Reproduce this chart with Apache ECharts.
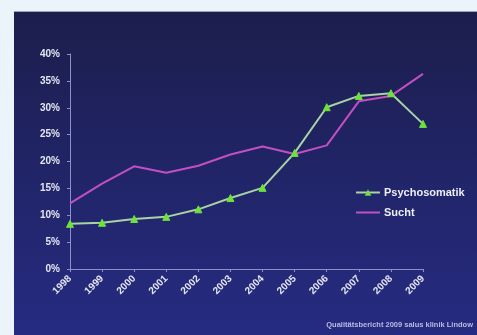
<!DOCTYPE html>
<html><head><meta charset="utf-8">
<script src="https://cdn.jsdelivr.net/npm/echarts@6/dist/echarts.min.js"></script>
<style>html,body{margin:0;padding:0;background:#eaf4fa;}#c{width:477px;height:335px;}</style>
</head><body><div id="c"></div>
<script>
const years = ['1998','1999','2000','2001','2002','2003','2004','2005','2006','2007','2008','2009'];
const psychosomatik = [8.4, 8.6, 9.3, 9.7, 11.1, 13.2, 15.1, 21.6, 30.1, 32.2, 32.7, 27.0];
const sucht = [12.2, 15.9, 19.1, 17.9, 19.2, 21.3, 22.8, 21.4, 23.0, 31.2, 32.2, 36.3];
const yTicks = [0, 5, 10, 15, 20, 25, 30, 35, 40];
const footer = 'Qualitätsbericht 2009 salus klinik Lindow';

const chart = echarts.init(document.getElementById('c'), null, {renderer: 'canvas'});
const labelStyle = {color: '#e4e6f2', fontWeight: 'bold', fontFamily: 'Liberation Sans, Arial, sans-serif', fontSize: 10};
chart.setOption({
  backgroundColor: '#eaf4fa',
  animation: false,
  graphic: [
    {type: 'rect', shape: {x: 14, y: 11, width: 463, height: 324}, z: -10,
     style: {fill: new echarts.graphic.LinearGradient(0, 0, 0, 1, [{offset: 0, color: '#1c1e4c'}, {offset: 1, color: '#262b82'}])}},
    {type: 'rect', shape: {x: 14, y: 11, width: 463, height: 1}, z: -9, style: {fill: '#9aa0c0'}},
    {type: 'text', right: 4, top: 321, z: 5,
     style: {text: footer, fill: '#b8bce0', font: 'bold 7.5px Liberation Sans, Arial, sans-serif'}}
  ],
  grid: {left: 70, right: 54, top: 54, bottom: 66, containLabel: false},
  legend: {
    orient: 'vertical', left: 350, top: 182, itemGap: 9, itemWidth: 24, itemHeight: 8,
    textStyle: {color: '#eceef8', fontWeight: 'bold', fontSize: 11, fontFamily: 'Liberation Sans, Arial, sans-serif', padding: [0, 0, 0, -1]},
    data: [{name: 'Psychosomatik'}, {name: 'Sucht', itemStyle: {opacity: 0}}]
  },
  xAxis: {
    type: 'category', data: years, boundaryGap: false,
    axisLine: {lineStyle: {color: '#8c90c8', width: 1}},
    axisTick: {show: true, lineStyle: {color: '#8c90c8'}, length: 3},
    axisLabel: Object.assign({rotate: 45, margin: 8}, labelStyle)
  },
  yAxis: {
    type: 'value', min: 0, max: 40, interval: 5,
    axisLine: {show: true, lineStyle: {color: '#8c90c8'}},
    axisTick: {show: true, lineStyle: {color: '#8c90c8'}, length: 3},
    splitLine: {show: false},
    axisLabel: Object.assign({margin: 10, formatter: v => yTicks.includes(v) ? v + '%' : ''}, labelStyle)
  },
  series: [
    {name: 'Psychosomatik', type: 'line', data: psychosomatik,
     symbol: 'triangle', symbolSize: 7, showAllSymbol: true,
     lineStyle: {color: '#a9d3a4', width: 2},
     itemStyle: {color: '#6ee23a', borderColor: '#6ee23a'}, z: 3},
    {name: 'Sucht', type: 'line', data: sucht,
     symbol: 'none',
     lineStyle: {color: '#c24fc4', width: 2},
     itemStyle: {color: '#c24fc4'}, z: 2}
  ]
});
</script></body></html>
